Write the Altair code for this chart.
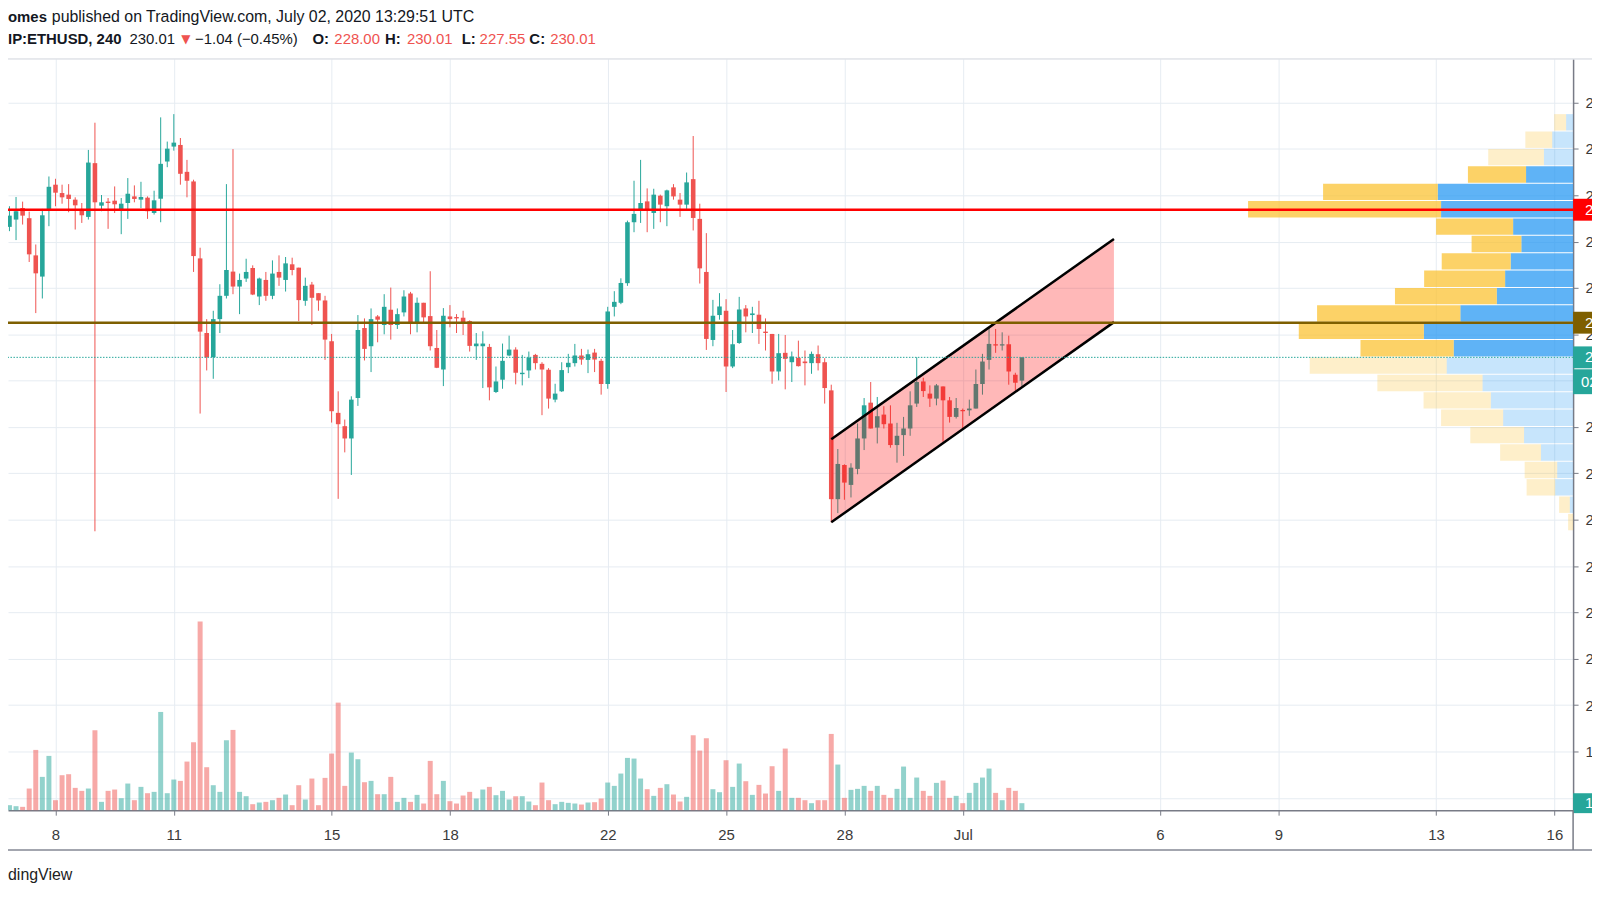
import altair as alt
import pandas as pd

# ---------------- data (4h candles, BITSTAMP:ETHUSD) ----------------
START = "2020-06-06 16:00"
opens = [242.42, 241.27, 241.90, 242.90, 242.02, 238.81, 236.98, 242.76, 244.91, 244.19,
         244.05, 243.62, 242.82, 242.13, 246.77, 243.10, 243.45, 243.53, 242.76, 243.33,
         243.90, 243.62, 243.79, 242.47, 243.70, 246.91, 248.20, 248.34, 246.02, 245.19,
         238.55, 232.11, 230.02, 233.31, 235.32, 237.41, 236.12, 236.81, 237.72, 235.26,
         236.69, 235.32, 237.38, 236.69, 238.04, 237.75, 234.89, 236.29, 235.55, 234.92,
         231.40, 225.22, 224.07, 223.01, 226.50, 232.54, 230.97, 233.54, 232.80, 234.12,
         232.80, 233.89, 235.52, 233.03, 234.72, 233.57, 230.82, 228.96, 233.54, 233.49,
         233.43, 233.14, 230.97, 230.97, 230.91, 227.02, 228.08, 230.17, 230.68, 228.56,
         228.88, 230.22, 229.45, 228.94, 226.36, 227.08, 229.16, 229.51, 230.17, 229.79,
         230.42, 229.71, 227.71, 234.37, 234.72, 236.41, 241.67, 242.67, 243.47, 242.47,
         243.96, 243.05, 244.68, 243.62, 243.19, 245.39, 241.96, 237.38, 231.51, 233.66,
         234.03, 229.22, 231.25, 234.23, 233.66, 233.69, 232.23, 232.03, 228.79, 230.40,
         229.59, 229.97, 229.65, 229.51, 230.28, 229.59, 227.16, 217.77, 220.72, 219.00,
         220.38, 223.01, 226.10, 223.95, 225.07, 224.30, 222.44, 223.30, 223.87, 226.02,
         227.93, 226.88, 226.45, 227.50, 226.30, 224.87, 225.47, 225.44, 225.59, 227.71,
         229.79, 231.14, 231.03, 231.14, 228.51, 228.00]
highs = [242.62, 243.05, 243.85, 243.45, 242.59, 239.75, 242.82, 245.62, 245.42, 244.91,
         244.96, 243.82, 243.33, 247.91, 250.26, 244.02, 243.76, 244.76, 243.76, 245.48,
         244.85, 245.16, 243.90, 244.39, 250.72, 248.63, 251.00, 248.94, 247.05, 245.34,
         239.47, 233.31, 234.03, 236.32, 244.96, 247.98, 237.24, 238.52, 237.95, 236.89,
         237.38, 238.38, 238.81, 238.67, 238.61, 237.75, 236.89, 236.52, 235.55, 235.32,
         232.03, 227.08, 224.64, 226.65, 233.66, 233.37, 234.23, 233.66, 235.46, 236.03,
         234.23, 235.80, 235.66, 235.17, 234.72, 237.44, 232.37, 234.26, 234.52, 233.74,
         234.03, 233.20, 232.11, 232.26, 231.17, 229.22, 231.20, 231.88, 230.88, 230.22,
         230.51, 230.31, 229.59, 229.08, 227.73, 229.59, 230.31, 231.17, 230.74, 230.68,
         230.74, 229.88, 234.37, 235.72, 236.83, 241.81, 245.25, 247.05, 244.59, 244.56,
         244.05, 244.48, 244.96, 244.19, 245.96, 249.11, 243.27, 240.73, 234.97, 235.55,
         235.03, 232.37, 235.23, 234.52, 234.37, 234.89, 233.37, 232.03, 232.03, 231.94,
         230.51, 231.45, 230.60, 230.51, 231.03, 229.94, 227.65, 222.10, 220.78, 220.87,
         224.30, 226.50, 227.88, 226.59, 225.79, 225.87, 224.36, 224.87, 227.08, 230.02,
         228.25, 227.59, 227.71, 227.50, 226.59, 226.50, 225.59, 226.36, 228.96, 230.31,
         232.60, 232.46, 232.17, 231.88, 228.68, 230.01]
lows = [241.47, 240.90, 240.13, 241.47, 238.24, 233.83, 235.09, 241.33, 243.05, 243.27,
        242.53, 241.04, 241.61, 241.90, 215.00, 242.62, 241.10, 242.47, 240.64, 241.96,
        243.39, 242.90, 241.96, 242.33, 241.67, 246.42, 247.85, 244.91, 243.82, 237.38,
        225.16, 228.88, 228.16, 232.11, 235.09, 235.46, 233.74, 236.52, 235.38, 234.52,
        234.89, 235.03, 236.18, 235.69, 237.09, 233.14, 234.46, 232.80, 234.03, 229.79,
        224.38, 217.80, 221.81, 219.86, 225.82, 229.74, 228.74, 231.31, 232.00, 231.54,
        232.46, 233.54, 232.00, 232.17, 233.03, 230.60, 229.08, 227.53, 232.60, 232.11,
        231.94, 230.51, 229.79, 227.36, 226.30, 226.93, 227.30, 230.11, 227.68, 227.59,
        228.22, 228.96, 225.02, 225.59, 226.13, 227.02, 228.65, 229.22, 229.37, 228.65,
        228.74, 226.79, 227.30, 233.54, 234.60, 236.18, 240.81, 241.61, 240.81, 241.10,
        241.67, 241.33, 243.62, 242.13, 242.82, 240.96, 236.38, 230.65, 230.97, 233.26,
        227.02, 229.08, 231.17, 232.17, 232.11, 231.17, 230.60, 227.73, 228.02, 227.25,
        227.88, 229.22, 227.59, 228.59, 228.88, 226.02, 215.77, 216.57, 217.72, 217.92,
        219.92, 222.01, 223.87, 222.58, 223.87, 222.21, 220.92, 221.50, 223.24, 225.73,
        226.59, 225.73, 225.87, 222.72, 224.38, 224.73, 223.87, 224.96, 225.59, 226.79,
        228.96, 230.40, 230.60, 227.65, 227.16, 227.55]
closes = [241.84, 242.24, 242.62, 242.24, 238.90, 237.26, 242.27, 244.73, 244.22, 243.82,
          243.68, 243.13, 242.27, 246.82, 243.39, 243.39, 243.33, 243.22, 243.27, 244.13,
          243.68, 243.85, 242.62, 243.56, 246.71, 248.02, 248.54, 245.85, 245.25, 238.75,
          232.23, 230.02, 233.31, 235.32, 237.55, 236.12, 236.69, 237.38, 235.43, 236.81,
          235.32, 237.24, 236.89, 238.12, 237.55, 234.95, 236.18, 235.15, 234.92, 231.54,
          225.36, 224.24, 223.01, 226.36, 232.37, 230.74, 233.31, 233.26, 234.37, 232.80,
          233.74, 235.26, 233.03, 234.72, 233.46, 230.97, 229.11, 233.60, 233.31, 233.37,
          233.03, 231.00, 231.20, 231.20, 227.42, 227.93, 229.71, 230.68, 228.68, 228.68,
          229.99, 229.51, 228.96, 226.45, 226.88, 228.91, 229.54, 230.17, 229.82, 230.28,
          229.82, 227.71, 233.97, 234.80, 236.43, 241.67, 242.39, 243.33, 242.76, 244.05,
          243.19, 244.42, 243.90, 243.19, 245.11, 242.04, 237.69, 231.60, 233.60, 234.40,
          229.22, 231.14, 234.14, 233.54, 233.80, 232.46, 232.11, 228.79, 230.37, 229.88,
          230.08, 229.25, 229.51, 230.31, 229.51, 227.36, 217.77, 220.81, 219.20, 220.49,
          223.01, 225.87, 223.87, 224.93, 224.24, 222.44, 223.24, 223.87, 225.87, 227.88,
          227.10, 226.45, 227.59, 226.30, 224.87, 225.64, 225.36, 225.59, 227.71, 229.65,
          231.17, 231.03, 231.14, 228.79, 227.82, 230.01]
volumes = [2.35, 0.75, 0.6, 0.5, 3.25, 9.05, 5.0, 8.15, 1.5, 5.25,
           5.4, 3.35, 2.9, 3.25, 12.0, 1.25, 2.9, 3.1, 1.8, 4.0,
           1.5, 3.5, 2.55, 2.75, 14.75, 2.55, 4.6, 4.4, 7.3, 10.2,
           28.35, 6.45, 3.75, 2.75, 10.5, 12.05, 2.75, 2.1, 0.9, 1.15,
           1.25, 1.5, 1.85, 2.35, 0.75, 3.75, 1.6, 4.75, 0.75, 4.85,
           8.5, 16.15, 3.65, 8.65, 7.65, 4.2, 4.4, 2.4, 2.4, 5.0,
           1.25, 1.85, 1.25, 2.3, 1.0, 7.4, 2.4, 4.4, 1.35, 1.0,
           2.2, 2.75, 1.75, 3.1, 3.5, 2.25, 2.9, 1.6, 2.1, 2.1,
           1.3, 0.75, 4.15, 1.5, 0.9, 1.25, 1.1, 1.0, 0.85, 1.15,
           1.2, 1.75, 4.15, 3.65, 5.5, 7.85, 7.75, 4.75, 3.15, 2.15,
           3.35, 3.9, 2.35, 1.3, 2.0, 11.25, 8.95, 10.8, 3.15, 2.7,
           7.5, 3.5, 7.0, 4.35, 2.3, 3.8, 2.5, 6.6, 2.9, 9.25,
           1.85, 1.85, 1.5, 1.05, 1.5, 1.5, 11.45, 6.85, 1.85, 3.05,
           3.2, 3.65, 2.9, 3.65, 2.3, 1.85, 3.2, 6.55, 1.85, 4.9,
           2.9, 2.15, 4.1, 4.45, 1.85, 2.15, 1.05, 2.6, 4.1, 4.9,
           6.25, 2.6, 1.5, 3.35, 2.9, 1.05]

# volume profile rows (bottom -> top)
vp_low = [215.0, 216.5, 218.0, 219.5, 221.0, 222.5, 224.0, 225.5, 227.0, 228.5, 230.0, 231.5,
          233.0, 234.5, 236.0, 237.5, 239.0, 240.5, 242.0, 243.5, 245.0, 246.5, 248.0, 249.5]
vp_up = [0.0, 0.61, 3.31, 2.94, 5.94, 9.06, 12.92, 15.20, 16.73, 23.35, 22.06, 27.57,
         20.83, 14.10, 12.56, 11.53, 9.56, 11.08, 24.39, 25.00, 8.69, 5.39, 3.86, 1.29]
vp_down = [0.92, 1.97, 5.28, 6.01, 7.54, 9.93, 11.47, 12.43, 19.43, 25.31, 17.22, 23.11,
           26.47, 18.81, 14.96, 12.74, 9.19, 14.23, 35.66, 21.19, 10.74, 10.29, 4.96, 2.21]
vp_value_area = [False] * 10 + [True] * 11 + [False] * 3
VP_ROW = 1.5

resistance = 242.75
support_mid = 233.00
last_price = 230.01
countdown = "02:30:09"

chan_t = ["2020-06-27T16:00:00Z", "2020-07-04T20:00:00Z"]
chan_upper = [222.95, 240.23]
chan_lower = [215.77, 233.05]

tick_days = [(6, 8), (6, 11), (6, 15), (6, 18), (6, 22), (6, 25), (6, 28), (7, 1), (7, 6), (7, 9), (7, 13), (7, 16)]
price_ticks = list(range(192, 253, 4))
hidden_price_labels = [192, 228]   # covered by the volume / countdown badges

# ---------------- frames ----------------
times = pd.date_range(START, periods=len(opens), freq="4h").strftime("%Y-%m-%dT%H:%M:%SZ")
df = pd.DataFrame({"t": times, "o": opens, "h": highs, "l": lows, "c": closes, "v": volumes})
vp = pd.DataFrame({"lo": vp_low, "up": vp_up, "down": vp_down, "va": vp_value_area})
vp["hi"] = vp["lo"] + VP_ROW
vp["zero"] = 0.0
vp["tot"] = vp["up"] + vp["down"]
chan = pd.DataFrame({"t": chan_t, "u": chan_upper, "w": chan_lower})
DUMMY = pd.DataFrame({"d": [0]})

# ---------------- styling ----------------
W, H = 1573, 755
TEAL, RED = "#26A69A", "#EF5350"
GRID, AXC, LBL = "#E6ECF2", "#787B86", "#3A3A3A"
FONT = "Liberation Sans"

XS = alt.Scale(type="utc", nice=False,
               domain=[alt.DateTime(year=2020, month=6, date=6, hours=22, minutes=8, utc=True),
                       alt.DateTime(year=2020, month=7, date=16, hours=8, minutes=20, utc=True)])
YS = alt.Scale(domain=[190.93, 255.76], nice=False, zero=False)
VS = alt.Scale(domain=[0, 112.8], nice=False, zero=True)
VPX = alt.Scale(domain=[0, 289.15], reverse=True, nice=False, zero=False)

hide_expr = " || ".join(f"datum.value == {v}" for v in hidden_price_labels)
X_AX = alt.Axis(values=[alt.DateTime(year=2020, month=m, date=d, utc=True) for m, d in tick_days],
                labelExpr="utcdate(datum.value) == 1 ? 'Jul' : '' + utcdate(datum.value)",
                grid=True, gridColor=GRID, gridWidth=1, domainColor=AXC, domainWidth=1.5,
                tickColor=AXC, tickSize=5, labelPadding=12, labelFontSize=15, labelColor=LBL,
                labelFont=FONT, labelFlush=False, labelOverlap=False, title=None)
Y_AX = alt.Axis(orient="right", values=price_ticks,
                labelExpr=f"({hide_expr}) ? '' : format(datum.value, '.2f')",
                grid=True, gridColor=GRID,
                gridWidth=1, domainColor=AXC, domainWidth=1.5, tickColor=AXC, tickSize=5,
                labelPadding=7, labelFontSize=15, labelColor=LBL, labelFont=FONT,
                labelFlush=False, labelOverlap=False, title=None)


def X(field):
    return alt.X(field, scale=XS, axis=X_AX, title=None)


def Y(field):
    return alt.Y(field, scale=YS, axis=Y_AX, title=None)


updown = lambda a, b: alt.condition("datum.c >= datum.o", alt.value(a), alt.value(b))

# ---------------- volume layer ----------------
vol_bars = alt.Chart(df).mark_bar(size=5).encode(
    x=alt.X("t:T", scale=XS, axis=None),
    y=alt.Y("v:Q", scale=VS, axis=None),
    color=updown("rgba(38,166,154,0.5)", "rgba(239,83,80,0.5)"))
vol_last = pd.DataFrame({"v": [volumes[-1]], "lab": [f"{volumes[-1]:.2f}K"]})
vol_box = alt.Chart(vol_last).mark_rect(color=TEAL, yOffset=-10, y2Offset=10).encode(
    x=alt.value(W), x2=alt.value(W + 30), y=alt.Y("v:Q", scale=VS, axis=None), y2="v:Q")
vol_txt = alt.Chart(vol_last).mark_text(align="left", baseline="middle", color="white",
                                        fontSize=15, font=FONT).encode(
    x=alt.value(W + 12), y=alt.Y("v:Q", scale=VS, axis=None), text="lab:N")
vol_layer = alt.layer(vol_bars, vol_box, vol_txt)

# ---------------- volume profile ----------------
vp_blue = alt.Chart(vp).mark_rect(yOffset=-1).encode(
    x=alt.X("zero:Q", scale=VPX, axis=None), x2="up:Q",
    y=alt.Y("lo:Q", scale=YS, axis=None), y2="hi:Q",
    color=alt.condition("datum.va", alt.value("rgba(33,150,243,0.72)"), alt.value("rgba(33,150,243,0.25)")))
vp_yel = alt.Chart(vp).mark_rect(yOffset=-1).encode(
    x=alt.X("up:Q", scale=VPX, axis=None), x2="tot:Q",
    y=alt.Y("lo:Q", scale=YS, axis=None), y2="hi:Q",
    color=alt.condition("datum.va", alt.value("rgba(251,192,45,0.72)"), alt.value("rgba(251,192,45,0.25)")))
vp_layer = alt.layer(vp_blue, vp_yel)

# ---------------- price layers ----------------
wicks = alt.Chart(df).mark_rule(strokeWidth=1).encode(
    x=X("t:T"), y=Y("l:Q"), y2="h:Q", color=updown(TEAL, RED))
bodies = alt.Chart(df).mark_bar(size=4.6).encode(
    x=X("t:T"), y=Y("o:Q"), y2="c:Q", color=updown(TEAL, RED))
chan_fill = alt.Chart(chan).mark_area(color="#FF0000", opacity=0.28).encode(
    x=X("t:T"), y=Y("u:Q"), y2="w:Q")
chan_up = alt.Chart(chan).mark_line(color="#000000", strokeWidth=2.5).encode(
    x=X("t:T"), y=Y("u:Q"))
chan_lo = alt.Chart(chan).mark_line(color="#000000", strokeWidth=2.5).encode(
    x=X("t:T"), y=Y("w:Q"))


def hline(p, color, width, dash=None):
    kw = dict(color=color, strokeWidth=width)
    if dash:
        kw["strokeDash"] = dash
    return alt.Chart(pd.DataFrame({"p": [p]})).mark_rule(**kw).encode(y=Y("p:Q"))


red_line = hline(resistance, "#FF0000", 2.5)
brown_line = hline(support_mid, "#7E5F00", 2.5)
last_line = hline(last_price, TEAL, 1, [1.5, 1.5])

marks_df = pd.DataFrame({"p": [resistance, support_mid, last_price],
                         "col": ["#FF0000", "#7E5F00", TEAL],
                         "lab": [f"{resistance:.2f}", f"{support_mid:.2f}", f"{last_price:.2f}"]})
mk_box = alt.Chart(marks_df).mark_rect(yOffset=-11, y2Offset=11).encode(
    x=alt.value(W), x2=alt.value(W + 30), y=Y("p:Q"), y2="p:Q",
    color=alt.Color("col:N", scale=None))
mk_txt = alt.Chart(marks_df).mark_text(align="left", baseline="middle", color="white",
                                       fontSize=15, font=FONT).encode(
    x=alt.value(W + 12), y=Y("p:Q"), text="lab:N")
cd_df = pd.DataFrame({"p": [last_price], "lab": [countdown]})
cd_box = alt.Chart(cd_df).mark_rect(color=TEAL, yOffset=12, y2Offset=37).encode(
    x=alt.value(W), x2=alt.value(W + 30), y=Y("p:Q"), y2="p:Q")
cd_txt = alt.Chart(cd_df).mark_text(align="left", baseline="middle", color="white", dy=25,
                                    fontSize=15, font=FONT).encode(
    x=alt.value(W + 8), y=Y("p:Q"), text="lab:N")

# frame lines
top_border = alt.Chart(DUMMY).mark_rule(color="#D1D4DC", strokeWidth=1).encode(
    x=alt.value(-8), x2=alt.value(W + 30), y=alt.value(0))
bottom_border = alt.Chart(DUMMY).mark_rule(color="#A3A6AF", strokeWidth=2).encode(
    x=alt.value(-8), x2=alt.value(W + 30), y=alt.value(H + 40))
axis_ext = alt.Chart(DUMMY).mark_rule(color=AXC, strokeWidth=1.5).encode(
    x=alt.value(W), y=alt.value(H), y2=alt.value(H + 40))


def txt(s, x, y, size=15, bold=False, color="#131722", font=FONT):
    return alt.Chart(DUMMY).mark_text(text=s, align="left", baseline="middle", fontSize=size,
                                      fontWeight="bold" if bold else "normal",
                                      color=color, font=font).encode(
        x=alt.value(x), y=alt.value(y))


L1, L2 = -42, -20
texts = [
    txt("omes", 0, L1, 15, True),
    txt("published on TradingView.com, July 02, 2020 13:29:51 UTC", 44, L1, 16),
    txt("IP:ETHUSD, 240", 0, L2, 15, True),
    txt("230.01", 122, L2, 15),
    txt("\u25BC", 174, L2, 12, False, RED, "DejaVu Sans"),
    txt("\u22121.04 (\u22120.45%)", 188, L2, 15),
    txt("O:", 306, L2, 15, True),
    txt("228.00", 328, L2, 15, False, RED),
    txt("H:", 379, L2, 15, True),
    txt("230.01", 401, L2, 15, False, RED),
    txt("L:", 456, L2, 15, True),
    txt("227.55", 474, L2, 15, False, RED),
    txt("C:", 524, L2, 15, True),
    txt("230.01", 545, L2, 15, False, RED),
    txt("dingView", 0, 820, 16, False, "#222222"),
]

main_layer = alt.layer(wicks, bodies, chan_fill, chan_up, chan_lo, red_line, brown_line,
                       last_line, top_border, bottom_border, axis_ext, mk_box, mk_txt,
                       cd_box, cd_txt, *texts)

chart = alt.layer(vol_layer, vp_layer, main_layer).resolve_scale(
    x="independent", y="independent"
).properties(
    width=W, height=H,
    padding={"left": 0, "top": 49, "right": 19, "bottom": 80},
    autosize=alt.AutoSizeParams(type="none"),
    background="white",
).configure_view(stroke=None)

chart.save("out.html", embed_options={"renderer": "svg", "actions": False})
